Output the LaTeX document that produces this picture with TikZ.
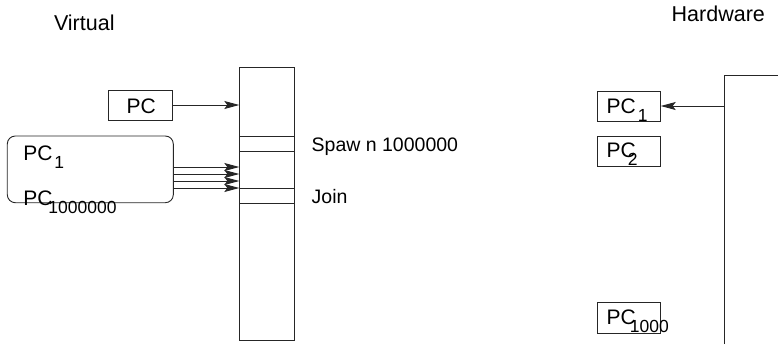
\documentclass[tikz,border=0pt]{standalone}
\usepackage{fontspec}
\setmainfont{Liberation Sans}
\usetikzlibrary{arrows.meta}
\newcommand\mysub[2]{\kern#1\raisebox{-8bp}{\fontsize{17.5bp}{20bp}\selectfont #2}}
\begin{document}
\begin{tikzpicture}[x=1bp,y=-1bp,
  box/.style={draw=black!85, line width=0.9bp, inner sep=0, outer sep=0},
  lbl/.style={inner sep=0, outer sep=0, anchor=base west, font=\fontsize{21bp}{24bp}\selectfont},
  biglbl/.style={lbl, font=\fontsize{21.5bp}{24bp}\selectfont},
  smlbl/.style={lbl, font=\fontsize{19.5bp}{24bp}\selectfont},
  arr/.style={draw=black!85, line width=0.9bp, -{Stealth[length=15bp,width=8bp,inset=3bp]}}]
\useasboundingbox (0,0) rectangle (778,344);
% titles
\node[biglbl] (virt) at (54,30.7) {Virtual};
\node[biglbl] (hw) at (671.7,21.7) {Hardware};
% stack
\node[box, minimum width=54.7bp, minimum height=273bp] (stack) at (266.65,203.5) {};
\node[box, minimum width=54.7bp, minimum height=14.3bp] (spawn) at (266.65,143.85) {};
\node[box, minimum width=54.7bp, minimum height=15.4bp] (join) at (266.65,196) {};
\node[smlbl] (spawnlbl) at (311.7,151.5) {Spaw n 1000000};
\node[smlbl] (joinlbl) at (311.7,203) {Join};
% PC box
\node[box, minimum width=64.4bp, minimum height=30bp] (pc) at (140.5,105) {};
\node[lbl] (pctxt) at (126.7,113.3) {PC};
\draw[arr] (pc.east) -- (pc.east -| stack.west);
% thread group
\node[box, rounded corners=8bp, minimum width=166bp, minimum height=66.7bp] (grp) at (90.3,169.35) {};
\node[lbl] (pcone) at (23.3,160.7) {PC\mysub{2bp}{1}};
\node[lbl] (pcmany) at (23.3,205) {PC\mysub{-4bp}{1000000}};
\coordinate (g1) at (grp.east |- 0,167);
\coordinate (g2) at (grp.east |- 0,174);
\coordinate (g3) at (grp.east |- 0,181);
\coordinate (g4) at (grp.east |- 0,188);
\foreach \i in {1,...,4} \draw[arr] (g\i) -- (g\i -| stack.west);
% hardware
\coordinate (hwtop) at (724.3,75.7);
\coordinate (hwbot) at (724.3,344);
\coordinate (hwright) at (778,75.7);
\draw[draw=black!85, line width=0.9bp] (hwbot) -- (hwtop) -- (hwright);
\node[box, minimum width=63.4bp, minimum height=30bp] (hpc1) at (629,106) {};
\node[box, minimum width=63.4bp, minimum height=30bp] (hpc2) at (629,151.7) {};
\node[box, minimum width=63.4bp, minimum height=30.6bp] (hpc3) at (629,318) {};
\node[lbl] (hpc1t) at (606.7,113.3) {PC\mysub{2bp}{1}};
\node[lbl] (hpc2t) at (606.7,157) {PC\mysub{-8bp}{2}};
\node[lbl] (hpc3t) at (606.7,324.5) {PC\mysub{-6bp}{1000}};
\coordinate (hwarr) at (hwtop |- hpc1.east);
\draw[arr] (hwarr) -- (hpc1.east);
\end{tikzpicture}
\end{document}
